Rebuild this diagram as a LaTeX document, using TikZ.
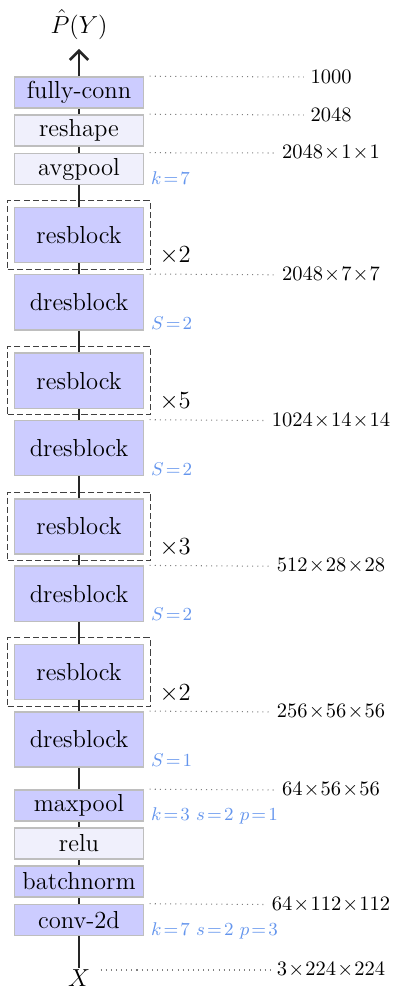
\documentclass[tikz,border=0pt]{standalone}
\usetikzlibrary{fit,positioning,arrows.meta}
\definecolor{lblblue}{RGB}{100,149,237}
\definecolor{boxfill}{RGB}{204,204,255}
\definecolor{lightfill}{RGB}{240,240,252}
\definecolor{boxborder}{RGB}{190,190,190}
\begin{document}
\begin{tikzpicture}[x=0.4878pt,y=-0.4878pt,
  layer/.style={draw=boxborder, line width=0.7pt, fill=boxfill, minimum width=63.2pt, minimum height=15.2pt, inner sep=0pt, font=\large},
  lightlayer/.style={layer, fill=lightfill},
  biglayer/.style={layer, minimum height=26.9pt},
  rep/.style={draw=black!75, dashed, line width=0.5pt, inner sep=2.9pt, dash pattern=on 3pt off 1.5pt},
  spine/.style={line width=1.3pt, black!85},
  dimline/.style={dotted, black!50, line width=0.5pt},
  dimlabel/.style={font=\normalsize, inner sep=0pt},
  param/.style={font=\small, text=lblblue, anchor=base west, inner sep=0pt},
  times/.style={font=\large, anchor=base west, inner sep=0pt}]
\useasboundingbox (0,0) rectangle (395,991);
% layers
\node[layer] (fc) at (79,92.5) {fully-conn};
\node[lightlayer] (rs) at (79,130.5) {reshape};
\node[lightlayer] (ap) at (79,169) {avgpool};
\node[biglayer] (r1) at (79,235) {resblock};
\node[biglayer] (d1) at (79,302.3) {dresblock};
\node[biglayer] (r2) at (79,380.7) {resblock};
\node[biglayer] (d2) at (79,448) {dresblock};
\node[biglayer] (r3) at (79,526.4) {resblock};
\node[biglayer] (d3) at (79,593.7) {dresblock};
\node[biglayer] (r4) at (79,672.1) {resblock};
\node[biglayer] (d4) at (79,739.4) {dresblock};
\node[layer] (mp) at (79,805.5) {maxpool};
\node[lightlayer] (rl) at (79,843.5) {relu};
\node[layer] (bn) at (79,881.5) {batchnorm};
\node[layer] (cv) at (79,920) {conv-2d};
\node[font=\large, inner sep=1pt] (X) at (79,978.5) {$X$};
\node[font=\large, inner sep=1pt] (PY) at (79,24.5) {$\hat{P}(Y)$};
% repeat boxes
\node[rep, fit=(r1)] (f1) {};
\node[rep, fit=(r2)] (f2) {};
\node[rep, fit=(r3)] (f3) {};
\node[rep, fit=(r4)] (f4) {};
\node[times] (t1) at ([xshift=4pt,yshift=3.3pt]f1.south east) {$\times 2$};
\node[times] (t2) at ([xshift=4pt,yshift=3.3pt]f2.south east) {$\times 5$};
\node[times] (t3) at ([xshift=4pt,yshift=3.3pt]f3.south east) {$\times 3$};
\node[times] (t4) at ([xshift=4pt,yshift=3.3pt]f4.south east) {$\times 2$};
% spine
\draw[spine] (X) -- (cv) -- (bn) -- (rl) -- (mp) -- (d4) -- (r4) -- (d3) -- (r3) -- (d2) -- (r2) -- (d1) -- (r1) -- (ap) -- (rs) -- (fc);
\draw[spine, -{Straight Barb[length=4.5pt,width=9pt]}] (fc) -- ([yshift=-3.5pt]PY.south);
% parameters
\node[param] (pa) at ([xshift=3pt,yshift=0.5pt]ap.south east) {$k\!=\!7$};
\node[param] (p1) at ([xshift=3pt,yshift=0.5pt]d1.south east) {$S\!=\!2$};
\node[param] (p2) at ([xshift=3pt,yshift=0.5pt]d2.south east) {$S\!=\!2$};
\node[param] (p3) at ([xshift=3pt,yshift=0.5pt]d3.south east) {$S\!=\!2$};
\node[param] (p4) at ([xshift=3pt,yshift=0.5pt]d4.south east) {$S\!=\!1$};
\node[param] (pm) at ([xshift=3pt,yshift=0.5pt]mp.south east) {$k\!=\!3\ s\!=\!2\ p\!=\!1$};
\node[param] (pc) at ([xshift=3pt,yshift=0.5pt]cv.south east) {$k\!=\!7\ s\!=\!2\ p\!=\!3$};
% dimensions
\node[dimlabel] (l1) at (331,77) {$1000$};
\node[dimlabel] (l2) at (331,115) {$2048$};
\node[dimlabel] (l3) at (331,153) {$2048\!\times\!1\!\times\!1$};
\node[dimlabel] (l4) at (331,274.8) {$2048\!\times\!7\!\times\!7$};
\node[dimlabel] (l5) at (331,420.5) {$1024\!\times\!14\!\times\!14$};
\node[dimlabel] (l6) at (331,566.2) {$512\!\times\!28\!\times\!28$};
\node[dimlabel] (l7) at (331,711.9) {$256\!\times\!56\!\times\!56$};
\node[dimlabel] (l8) at (331,790) {$64\!\times\!56\!\times\!56$};
\node[dimlabel] (l9) at (331,904.5) {$64\!\times\!112\!\times\!112$};
\node[dimlabel] (l0) at (331,970) {$3\!\times\!224\!\times\!224$};
\draw[dimline] ([xshift=2.5pt]fc.north east) -- ([xshift=-3pt]l1.west);
\draw[dimline] ([xshift=2.5pt]rs.north east) -- ([xshift=-3pt]l2.west);
\draw[dimline] ([xshift=2.5pt]ap.north east) -- ([xshift=-3pt]l3.west);
\draw[dimline] ([xshift=2.5pt]d1.north east) -- ([xshift=-3pt]l4.west);
\draw[dimline] ([xshift=2.5pt]d2.north east) -- ([xshift=-3pt]l5.west);
\draw[dimline] ([xshift=2.5pt]d3.north east) -- ([xshift=-3pt]l6.west);
\draw[dimline] ([xshift=2.5pt]d4.north east) -- ([xshift=-3pt]l7.west);
\draw[dimline] ([xshift=2.5pt]mp.north east) -- ([xshift=-3pt]l8.west);
\draw[dimline] ([xshift=2.5pt]cv.north east) -- ([xshift=-3pt]l9.west);
\draw[dimline] ([xshift=4pt]X.east |- l0.west) -- ([xshift=-3pt]l0.west);
\end{tikzpicture}
\end{document}
